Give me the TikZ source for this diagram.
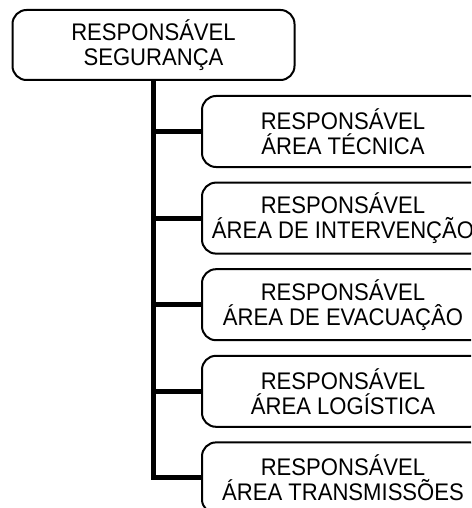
\documentclass[tikz,border=0pt]{standalone}
\usepackage{fontspec}
\setmainfont{Liberation Sans}[FakeStretch=0.92]
\usetikzlibrary{positioning}

\begin{document}
\begin{tikzpicture}[
    x=1pt, y=-1pt,
    line join=miter,
    font=\fontsize{24}{25}\selectfont,
    box/.style={draw, line width=2pt, rounded corners=14pt, align=center,
                minimum width=282pt, minimum height=71pt, inner sep=0pt},
    link/.style={line width=5pt}
]

% page size
\useasboundingbox (0,0) rectangle (471,508);
\clip (0,0) rectangle (471,508);

%-----------------------
% 1) TOP BOX
%-----------------------
\node[box, minimum height=70pt] (seg) at (153.5,45) {RESPONSÁVEL\\SEGURANÇA};

%-----------------------
% 2) AREA BOXES
%-----------------------
\node[box] (tec) at (343,131.5) {RESPONSÁVEL\\ÁREA TÉCNICA};
\node[box, below=13.6pt of tec] (int) {RESPONSÁVEL\\ÁREA DE INTERVENÇÃO};
\node[box, below=13.6pt of int] (eva) {RESPONSÁVEL\\ÁREA DE EVACUAÇÂO};
\node[box, below=13.6pt of eva] (log) {RESPONSÁVEL\\ÁREA LOGÍSTICA};
\node[box, below=13.6pt of log] (tra) {RESPONSÁVEL\\ÁREA TRANSMISSÕES};

%-----------------------
% 3) CONNECTORS
%-----------------------
\coordinate (end) at (seg.south |- tra.west);
\draw[link] (seg.south) -- (end) -- (tra.west);
\foreach \b in {tec,int,eva,log}
  \draw[link] (seg.south |- \b.west) -- (\b.west);

\end{tikzpicture}
\end{document}
